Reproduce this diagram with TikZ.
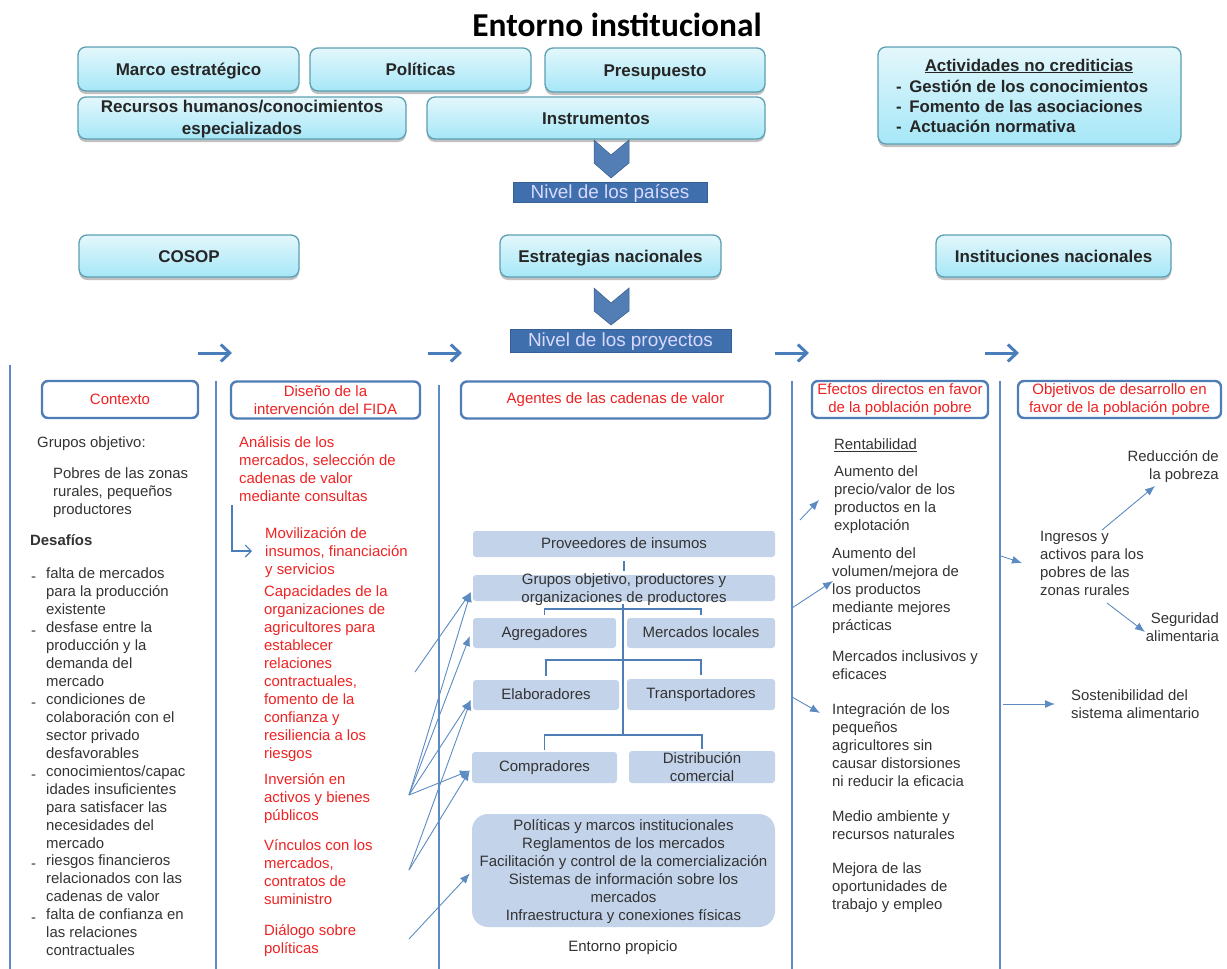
\documentclass[tikz,border=0pt]{standalone}
\usepackage{fontspec}
\setmainfont{Liberation Sans}
\newfontfamily\titlefont{Carlito}
\usetikzlibrary{arrows.meta,shadows,calc}
\definecolor{txtgray}{HTML}{333333}
\definecolor{redtxt}{HTML}{EE2222}
\definecolor{rule}{HTML}{5F8BC4}
\definecolor{hdrline}{HTML}{4F7DB5}
\definecolor{arrowblue}{HTML}{4A7EBB}
\definecolor{cellblue}{HTML}{C3D3EA}
\definecolor{levelblue}{HTML}{3F70AD}
\definecolor{cyantop}{HTML}{E3F7FB}
\definecolor{cyanbot}{HTML}{A6E7F8}
\definecolor{cyanline}{HTML}{5C9FB2}
\tikzset{
  topshape/.style={rounded corners=8pt,draw=cyanline,line width=1.3pt,top color=cyantop,bottom color=cyanbot,
    drop shadow={shadow xshift=0pt,shadow yshift=-3pt,opacity=.35,fill=black!70},
    font=\fontsize{17}{21.5}\selectfont\bfseries,text=black!85,align=center,inner sep=0pt},
  topbox/.style={topshape,text height=15pt,text depth=3pt},
  toptext/.style={font=\fontsize{17}{21.5}\selectfont\bfseries,text=black!85,align=center,inner sep=0pt},
  levelbox/.style={fill=levelblue,draw=levelblue!85!black,line width=.5pt,text=white!85!blue,font=\fontsize{18.9}{21}\selectfont,inner sep=0pt,text height=14pt,text depth=2pt},
  hdr/.style={draw=hdrline,line width=2.4pt,rounded corners=6pt,fill=white,text=redtxt,align=center,
    font=\fontsize{15}{18}\selectfont,inner sep=0pt},
  cellshape/.style={fill=cellblue,rounded corners=3pt,text=txtgray,align=center,font=\fontsize{15}{18}\selectfont,inner sep=0pt},
  cell/.style={cellshape,text height=11pt,text depth=3pt},
  celltext/.style={text=txtgray,align=center,font=\fontsize{15}{18}\selectfont,inner sep=0pt},
  body/.style={anchor=north west,inner sep=0pt,align=left,text=txtgray,font=\fontsize{14.9}{18}\selectfont,execute at begin node=\strut,yshift=-3.5pt},
  bodyr/.style={anchor=north east,inner sep=0pt,align=right,text=txtgray,font=\fontsize{14.9}{18}\selectfont,execute at begin node=\strut,yshift=-3.5pt},
  red/.style={body,text=redtxt},
  vrule/.style={draw=rule,line width=1.3pt},
  tree/.style={draw=hdrline,line width=1.6pt},
  thin arrow/.style={draw=arrowblue!90!white,line width=.9pt,-{Latex[length=10pt,width=8pt]}},
  flow arrow/.style={draw=arrowblue,line width=3pt,-{Straight Barb[length=9pt,width=17pt]}},
  chev/.style={fill=levelblue!90!white,draw=levelblue!80!black,line width=.5pt},
}
\begin{document}
\begin{tikzpicture}[x=1pt,y=-1pt]
\path[use as bounding box] (0,0) rectangle (1227,969);
% title
\node[font=\titlefont\fontsize{33.4}{38}\selectfont\bfseries,text=black,inner sep=0pt] (title) at (617,24.5) {Entorno institucional};
% upper boxes
\node[topbox,minimum width=221pt,minimum height=44pt] (marco) at (188.5,69) {Marco estratégico};
\node[topbox,minimum width=221pt,minimum height=43pt] (politicas) at (420.5,69.5) {Políticas};
\node[topbox,minimum width=220pt,minimum height=44pt] (presupuesto) at (655,70) {Presupuesto};
\node[topshape,minimum width=328pt,minimum height=42pt] (recursos) at (242,118) {};
\node[toptext] (recursostxt) at (242,119) {Recursos humanos/conocimientos\\especializados};
\node[topbox,minimum width=338pt,minimum height=42pt] (instrumentos) at (596,118) {Instrumentos};
\node[topshape,minimum width=303pt,minimum height=97pt] (actividades) at (1029.5,95.5) {};
\node[font=\fontsize{16.9}{20}\selectfont\bfseries,text=black!85,inner sep=0pt] (acttitle) at (1029,66) {\underline{Actividades no crediticias}};
\node[anchor=north west,inner sep=0pt,align=left,font=\fontsize{16.8}{20}\selectfont\bfseries,text=black!85] (actlist) at (896,80)
  {- \,Gestión de los conocimientos\\- \,Fomento de las asociaciones\\- \,Actuación normativa};
\draw[chev] (594,140) -- (611,155) -- (629,140) -- (629,163) -- (611,178) -- (594,163) -- cycle;
\node[levelbox,minimum width=194pt,minimum height=20pt] (paises) at (610,192) {Nivel de los países};
\node[topbox,minimum width=220pt,minimum height=42pt] (cosop) at (189,256) {COSOP};
\node[topbox,minimum width=221pt,minimum height=42pt] (estrategias) at (610.5,256) {Estrategias nacionales};
\node[topbox,minimum width=235pt,minimum height=42pt] (instituciones) at (1053.5,256) {Instituciones nacionales};
\draw[chev] (594,288) -- (611,303) -- (629,288) -- (629,311) -- (611,325) -- (594,311) -- cycle;
\node[levelbox,minimum width=221pt,minimum height=23pt] (proyectos) at (620.5,340.5) {Nivel de los proyectos};
% flow arrows
\coordinate (fa1) at (198,353); \coordinate (fb1) at (232,353);
\coordinate (fa2) at (428,353); \coordinate (fb2) at (462,353);
\coordinate (fa3) at (775,353); \coordinate (fb3) at (809,353);
\coordinate (fa4) at (985,353); \coordinate (fb4) at (1019,353);
\draw[flow arrow] (fa1) -- (fb1);
\draw[flow arrow] (fa2) -- (fb2);
\draw[flow arrow] (fa3) -- (fb3);
\draw[flow arrow] (fa4) -- (fb4);
% column rules
\draw[vrule] (10,365) -- (10,969);
\draw[vrule] (216,381) -- (216,969);
\draw[vrule] (439,385) -- (439,969);
\draw[vrule] (792,381) -- (792,969);
\draw[vrule] (1000,381) -- (1000,969);
% headers
\node[hdr,minimum width=156pt,minimum height=37pt] (contexto) at (120,399.5) {Contexto};
\node[hdr,minimum width=189pt,minimum height=37pt] (diseno) at (325.5,400) {Diseño de la\\intervención del FIDA};
\node[hdr,minimum width=309pt,minimum height=37pt] (agentes) at (615.5,400) {Agentes de las cadenas de valor};
\node[hdr,minimum width=176pt,minimum height=37pt] (efectos) at (900,399.5) {Efectos directos en favor\\de la población pobre};
\node[hdr,minimum width=203pt,minimum height=37pt] (objetivos) at (1119.5,399.5) {Objetivos de desarrollo en\\favor de la población pobre};
% context column
\node[body] (grupos1) at (37,431) {Grupos objetivo:};
\node[body] (pobres) at (53,464) {Pobres de las zonas\\rurales, pequeños\\productores};
\node[body,font=\fontsize{14.9}{18}\selectfont\bfseries] (desafios) at (30,529) {Desafíos};
\node[body] (dash1) at (31,565) {-};
\node[body] (item1) at (46,564) {falta de mercados\\para la producción\\existente};
\node[body] (dash2) at (31,619) {-};
\node[body] (item2) at (46,618) {desfase entre la\\producción y la\\demanda del\\mercado};
\node[body] (dash3) at (31,691) {-};
\node[body] (item3) at (46,690) {condiciones de\\colaboración con el\\sector privado\\desfavorables};
\node[body] (dash4) at (31,763) {-};
\node[body] (item4) at (46,762) {conocimientos/capac\\idades insuficientes\\para satisfacer las\\necesidades del\\mercado};
\node[body] (dash5) at (31,852) {-};
\node[body] (item5) at (46,851) {riesgos financieros\\relacionados con las\\cadenas de valor};
\node[body] (dash6) at (31,906) {-};
\node[body] (item6) at (46,905) {falta de confianza en\\las relaciones\\contractuales};
% design column
\node[red] (analisis) at (239,433) {Análisis de los\\mercados, selección de\\cadenas de valor\\mediante consultas};
\node[red] (movil) at (265,524) {Movilización de\\insumos, financiación\\y servicios};
\node[red] (capac) at (264,582) {Capacidades de la\\organizaciones de\\agricultores para\\establecer\\relaciones\\contractuales,\\fomento de la\\confianza y\\resiliencia a los\\riesgos};
\node[red] (inversion) at (264,770) {Inversión en\\activos y bienes\\públicos};
\node[red] (vinculos) at (264,836) {Vínculos con los\\mercados,\\contratos de\\suministro};
\node[red] (dialogo) at (264,921) {Diálogo sobre\\políticas};
\coordinate (la) at (232,505); \coordinate (lb) at (252,551);
\draw[draw=arrowblue,line width=1.1pt,-{Straight Barb[length=6pt,width=12pt]}] (la) |- (lb);
% value chain
\node[cell,minimum width=302pt,minimum height=26pt] (prov) at (624,544) {Proveedores de insumos};
\node[cellshape,minimum width=302pt,minimum height=26pt] (grp) at (624,588) {};
\node[celltext] (grptxt) at (624,590) {Grupos objetivo, productores y\\organizaciones de productores};
\node[cell,minimum width=143pt,minimum height=30pt] (agreg) at (544.5,633) {Agregadores};
\node[cell,minimum width=148pt,minimum height=30pt] (merc) at (701,633) {Mercados locales};
\node[cell,minimum width=146pt,minimum height=30pt] (elab) at (546,695) {Elaboradores};
\node[cell,minimum width=148pt,minimum height=31pt] (trans) at (701,694.5) {Transportadores};
\node[cell,minimum width=145pt,minimum height=31pt] (comp) at (544.5,767.5) {Compradores};
\node[cellshape,minimum width=146pt,minimum height=32pt] (dist) at (702,767) {Distribución\\comercial};
\node[cellshape,rounded corners=16pt,minimum width=303pt,minimum height=113pt] (big) at (623.5,870.5) {};
\node[celltext] (bigtxt) at (623.5,872) {Políticas y marcos institucionales\\Reglamentos de los mercados\\Facilitación y control de la comercialización\\Sistemas de información sobre los\\mercados\\Infraestructura y conexiones físicas};
\node[text=txtgray,inner sep=0pt,font=\fontsize{15}{18}\selectfont] (entorno) at (623,948) {Entorno propicio};
% tree lines
\coordinate (sp0) at (623,604); \coordinate (sp3) at (623,735);
\coordinate (br1) at (623,609); \coordinate (br2) at (623,660);
\draw[tree,shorten <=4pt,shorten >=4pt,line width=1.2pt] (prov.south) -- (grp.north);
\draw[tree] (sp0) -- (sp3);
\draw[tree,shorten <=3pt,shorten >=3pt] (agreg.north) |- (br1) -| (merc.north);
\draw[tree,shorten <=4pt,shorten >=4pt] (elab.north) |- (br2) -| (trans.north);
\draw[tree,shorten <=2pt,shorten >=2pt] (comp.north) |- (sp3) -| (dist.north);
% arrows into the chain
\coordinate (s1) at (409,795); \coordinate (s2) at (415,672);
\coordinate (s3) at (409,870); \coordinate (s4) at (409,939);
\draw[thin arrow] (s1) -- ([shift={(-2,4)}]grp.west);
\draw[thin arrow] (s2) -- ([shift={(-2,4)}]grp.west);
\draw[thin arrow] (s1) -- ([shift={(-3,3)}]agreg.west);
\draw[thin arrow] (s1) -- ([shift={(-2,5)}]elab.west);
\draw[thin arrow] (s3) -- ([shift={(-2,5)}]elab.west);
\draw[thin arrow] (s1) -- ([shift={(-2,3)}]comp.west);
\draw[thin arrow] (s3) -- ([shift={(-2,3)}]comp.west);
\draw[thin arrow] (s4) -- ([shift={(-2,3)}]big.west);
% effects column
\node[body] (rent) at (834,433) {\underline{Rentabilidad}};
\node[body] (ef1) at (834,462) {Aumento del\\precio/valor de los\\productos en la\\explotación};
\node[body] (ef2) at (832,544) {Aumento del\\volumen/mejora de\\los productos\\mediante mejores\\prácticas};
\node[body] (ef3) at (832,647) {Mercados inclusivos y\\eficaces};
\node[body] (ef4) at (832,700) {Integración de los\\pequeños\\agricultores sin\\causar distorsiones\\ni reducir la eficacia};
\node[body] (ef5) at (832,807) {Medio ambiente y\\recursos naturales};
\node[body] (ef6) at (832,859) {Mejora de las\\oportunidades de\\trabajo y empleo};
\coordinate (e1a) at (800,520); \coordinate (e1b) at (819,500);
\coordinate (e2a) at (792,608); \coordinate (e2b) at (833,581);
\coordinate (e3a) at (792,697); \coordinate (e3b) at (820,713);
\draw[thin arrow] (e1a) -- (e1b);
\draw[thin arrow] (e2a) -- (e2b);
\draw[thin arrow] (e3a) -- (e3b);
% objectives column
\node[bodyr] (obj1) at (1219,447) {Reducción de\\la pobreza};
\node[body] (obj2) at (1040,528) {Ingresos y\\activos para los\\pobres de las\\zonas rurales};
\node[bodyr] (obj3) at (1219,609) {Seguridad\\alimentaria};
\node[body] (obj4) at (1071,686) {Sostenibilidad del\\sistema alimentario};
\coordinate (o1a) at (1001,556); \coordinate (o1b) at (1022,563);
\coordinate (o2a) at (1003,704); \coordinate (o2b) at (1055,704);
\coordinate (o3a) at (1102,530); \coordinate (o3b) at (1155,486);
\coordinate (o4a) at (1107,603); \coordinate (o4b) at (1145,632);
\draw[thin arrow] (o1a) -- (o1b);
\draw[thin arrow] (o2a) -- (o2b);
\draw[thin arrow] (o3a) -- (o3b);
\draw[thin arrow] (o4a) -- (o4b);
\end{tikzpicture}
\end{document}
